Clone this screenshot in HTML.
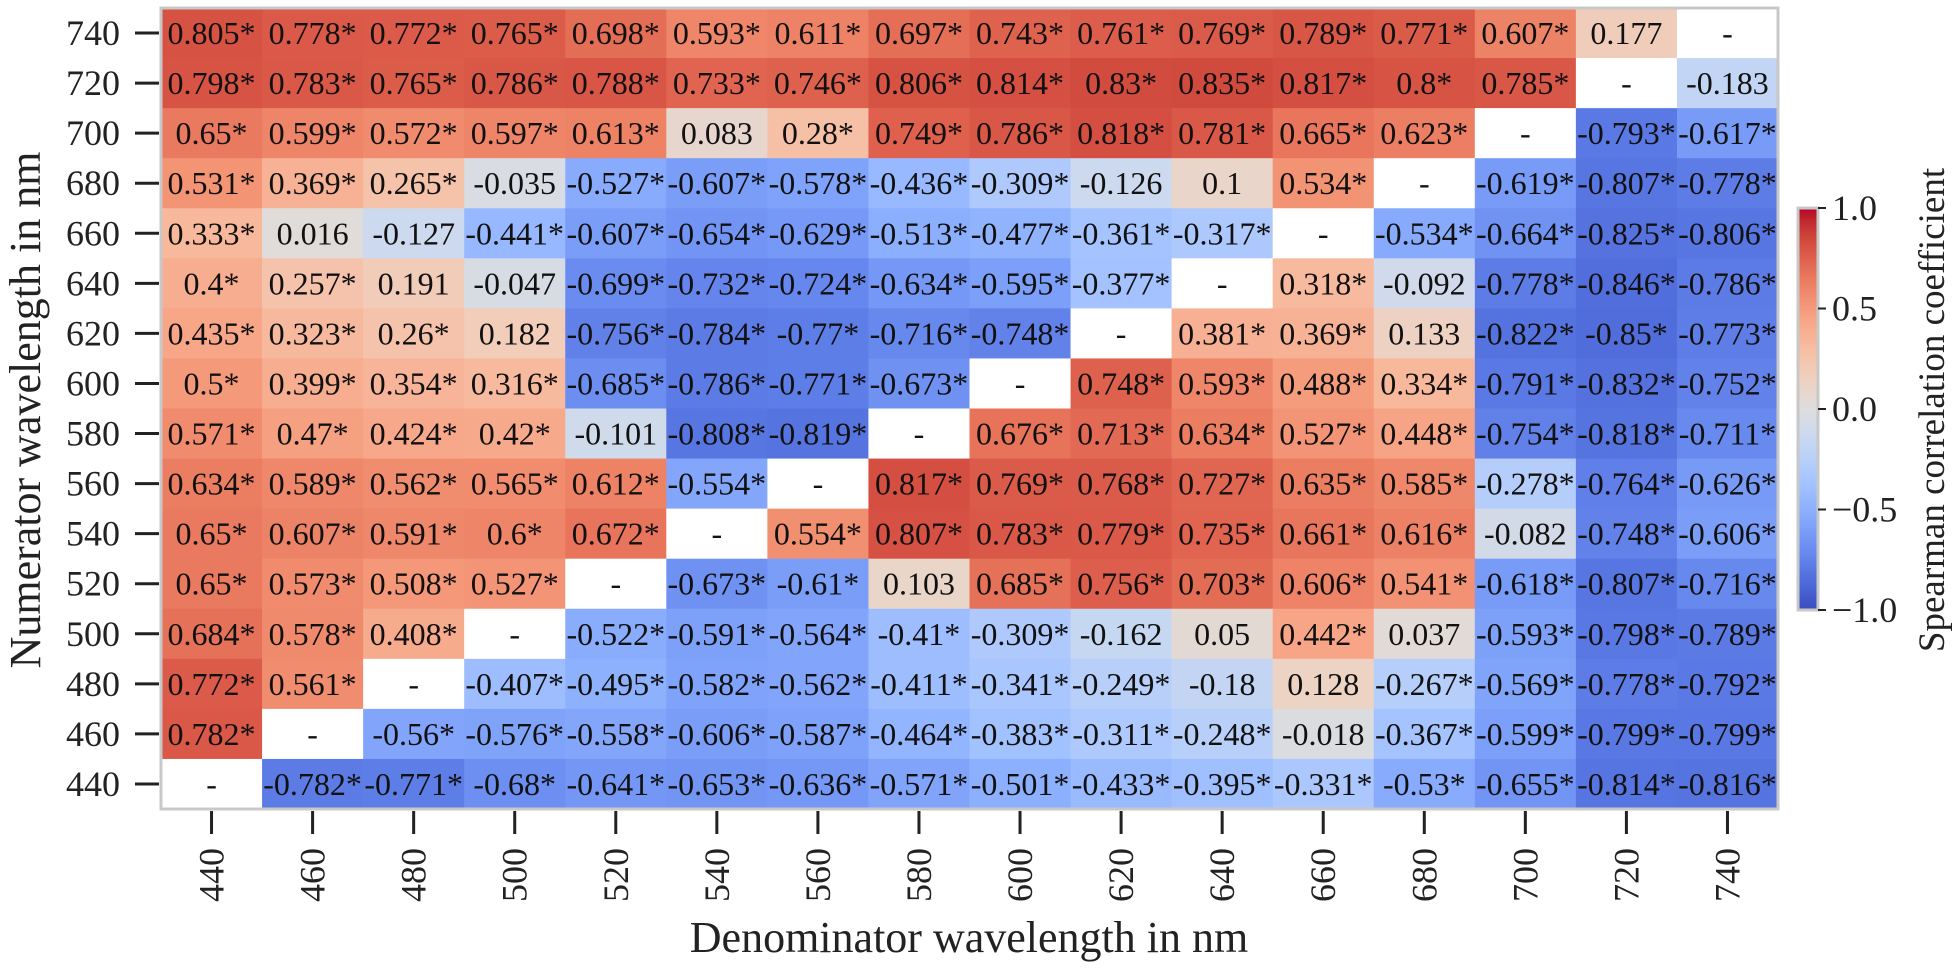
<!DOCTYPE html>
<html><head><meta charset="utf-8"><style>
html,body{margin:0;padding:0;background:#fff;}
svg{display:block;font-family:"Liberation Serif",serif;}
</style></head><body>
<svg id="chart" width="1960" height="976" viewBox="0 0 1960 976" xmlns="http://www.w3.org/2000/svg">
<g id="cells"></g>
<g id="labels"></g>
<rect x="161" y="8" width="1617" height="801" fill="none" stroke="#c8c8c8" stroke-width="3"/>
<g id="xaxis"></g>
<g id="yaxis"></g>
<text x="969" y="952" font-size="44" text-anchor="middle" fill="#222">Denominator wavelength in nm</text>
<text transform="translate(40,410) rotate(-90)" font-size="44" text-anchor="middle" fill="#222">Numerator wavelength in nm</text>
<defs><linearGradient id="cbgrad" x1="0" y1="1" x2="0" y2="0"></linearGradient></defs>
<g id="colorbar"></g>
<text transform="translate(1944,410) rotate(-90)" font-size="37" text-anchor="middle" fill="#222">Spearman correlation coefficient</text>
</svg>
<script>
const wavelengths = [440,460,480,500,520,540,560,580,600,620,640,660,680,700,720,740];
// rows from top (740) to bottom (440); columns 440..740
const rowLabels = [740,720,700,680,660,640,620,600,580,560,540,520,500,480,460,440];
const cellText = [
["0.805*","0.778*","0.772*","0.765*","0.698*","0.593*","0.611*","0.697*","0.743*","0.761*","0.769*","0.789*","0.771*","0.607*","0.177","-"],
["0.798*","0.783*","0.765*","0.786*","0.788*","0.733*","0.746*","0.806*","0.814*","0.83*","0.835*","0.817*","0.8*","0.785*","-","-0.183"],
["0.65*","0.599*","0.572*","0.597*","0.613*","0.083","0.28*","0.749*","0.786*","0.818*","0.781*","0.665*","0.623*","-","-0.793*","-0.617*"],
["0.531*","0.369*","0.265*","-0.035","-0.527*","-0.607*","-0.578*","-0.436*","-0.309*","-0.126","0.1","0.534*","-","-0.619*","-0.807*","-0.778*"],
["0.333*","0.016","-0.127","-0.441*","-0.607*","-0.654*","-0.629*","-0.513*","-0.477*","-0.361*","-0.317*","-","-0.534*","-0.664*","-0.825*","-0.806*"],
["0.4*","0.257*","0.191","-0.047","-0.699*","-0.732*","-0.724*","-0.634*","-0.595*","-0.377*","-","0.318*","-0.092","-0.778*","-0.846*","-0.786*"],
["0.435*","0.323*","0.26*","0.182","-0.756*","-0.784*","-0.77*","-0.716*","-0.748*","-","0.381*","0.369*","0.133","-0.822*","-0.85*","-0.773*"],
["0.5*","0.399*","0.354*","0.316*","-0.685*","-0.786*","-0.771*","-0.673*","-","0.748*","0.593*","0.488*","0.334*","-0.791*","-0.832*","-0.752*"],
["0.571*","0.47*","0.424*","0.42*","-0.101","-0.808*","-0.819*","-","0.676*","0.713*","0.634*","0.527*","0.448*","-0.754*","-0.818*","-0.711*"],
["0.634*","0.589*","0.562*","0.565*","0.612*","-0.554*","-","0.817*","0.769*","0.768*","0.727*","0.635*","0.585*","-0.278*","-0.764*","-0.626*"],
["0.65*","0.607*","0.591*","0.6*","0.672*","-","0.554*","0.807*","0.783*","0.779*","0.735*","0.661*","0.616*","-0.082","-0.748*","-0.606*"],
["0.65*","0.573*","0.508*","0.527*","-","-0.673*","-0.61*","0.103","0.685*","0.756*","0.703*","0.606*","0.541*","-0.618*","-0.807*","-0.716*"],
["0.684*","0.578*","0.408*","-","-0.522*","-0.591*","-0.564*","-0.41*","-0.309*","-0.162","0.05","0.442*","0.037","-0.593*","-0.798*","-0.789*"],
["0.772*","0.561*","-","-0.407*","-0.495*","-0.582*","-0.562*","-0.411*","-0.341*","-0.249*","-0.18","0.128","-0.267*","-0.569*","-0.778*","-0.792*"],
["0.782*","-","-0.56*","-0.576*","-0.558*","-0.606*","-0.587*","-0.464*","-0.383*","-0.311*","-0.248*","-0.018","-0.367*","-0.599*","-0.799*","-0.799*"],
["-","-0.782*","-0.771*","-0.68*","-0.641*","-0.653*","-0.636*","-0.571*","-0.501*","-0.433*","-0.395*","-0.331*","-0.53*","-0.655*","-0.814*","-0.816*"]
];
const cbTicks = [1.0,0.5,0.0,-0.5,-1.0];
const cbTickLabels = ["1.0","0.5","0.0","\u22120.5","\u22121.0"];

const NS="http://www.w3.org/2000/svg";
const cw=[[59,76,192],[68,90,204],[77,104,215],[87,117,225],[98,130,234],[108,142,241],[119,154,247],[130,165,251],[141,176,254],[152,185,255],[163,194,255],[174,201,253],[184,208,249],[194,213,244],[204,217,238],[213,219,230],[221,221,221],[229,216,209],[236,211,197],[241,204,185],[245,196,173],[247,187,160],[247,177,148],[247,166,135],[244,154,123],[241,141,111],[236,127,99],[229,112,88],[222,96,77],[213,80,66],[203,62,56],[192,40,47],[180,4,38]];
function color(v){let t=(Math.max(-1,Math.min(1,v))+1)/2*32;let i=Math.min(31,Math.floor(t)),f=t-i;const a=cw[i],b=cw[i+1];return `rgb(${a.map((c,k)=>Math.round(c+(b[k]-c)*f)).join(',')})`;}
const X0=161,X1=1778,Y0=8,Y1=809;
const n=wavelengths.length;
const cwid=(X1-X0)/n, rh=(Y1-Y0)/rowLabels.length;
const xPos=i=>X0+i*cwid, yPos=j=>Y0+j*rh;
function mk(tag,attrs,parent){const e=document.createElementNS(NS,tag);for(const k in attrs)e.setAttribute(k,attrs[k]);parent.appendChild(e);return e;}
const cells=document.getElementById('cells'),labels=document.getElementById('labels');
cellText.forEach((row,j)=>row.forEach((s,i)=>{
  const v=parseFloat(s);
  const r=mk('rect',{x:xPos(i),y:yPos(j),width:cwid+0.6,height:rh+0.6,fill:isNaN(v)?'#ffffff':color(v)},cells);
  
  
  const t=mk('text',{x:xPos(i)+cwid/2,y:yPos(j)+rh/2+11,'font-size':32,'text-anchor':'middle',fill:'#111'},labels);
  t.textContent=s;
  
  
}));
const xa=document.getElementById('xaxis'),ya=document.getElementById('yaxis');
wavelengths.forEach((w,i)=>{
  const cx=xPos(i)+cwid/2;
  const l=mk('line',{x1:cx,x2:cx,y1:811,y2:834,stroke:'#222','stroke-width':3},xa);
  
  
  const t=mk('text',{transform:`translate(${cx+12},848) rotate(-90)`,'font-size':36,'text-anchor':'end',fill:'#222'},xa);
  t.textContent=w;
  
  
});
rowLabels.forEach((w,j)=>{
  const cy=yPos(j)+rh/2;
  const l=mk('line',{x1:135,x2:159,y1:cy,y2:cy,stroke:'#222','stroke-width':3},ya);
  
  
  const t=mk('text',{x:120,y:cy+12,'font-size':36,'text-anchor':'end',fill:'#222'},ya);
  t.textContent=w;
  
  
});
const g=document.getElementById('cbgrad');
for(let k=0;k<=32;k++){mk('stop',{offset:(k/32),'stop-color':color(k/16-1)},g);}
const cb=document.getElementById('colorbar');
const CB0=208,CB1=610;
const cbY=v=>CB1-(v+1)/2*(CB1-CB0);
const bar=mk('rect',{x:1798,y:CB0,width:20,height:CB1-CB0,fill:'url(#cbgrad)',stroke:'#c8c8c8','stroke-width':3},cb);


cbTicks.forEach((v,k)=>{
  const y=cbY(v);
  const l=mk('line',{x1:1818,x2:1826,y1:y,y2:y,stroke:'#222','stroke-width':2},cb);
  
  
  const t=mk('text',{x:1832,y:y+12,'font-size':36,fill:'#222'},cb);
  t.textContent=cbTickLabels[k];
  
  
});
</script>
</body></html>
